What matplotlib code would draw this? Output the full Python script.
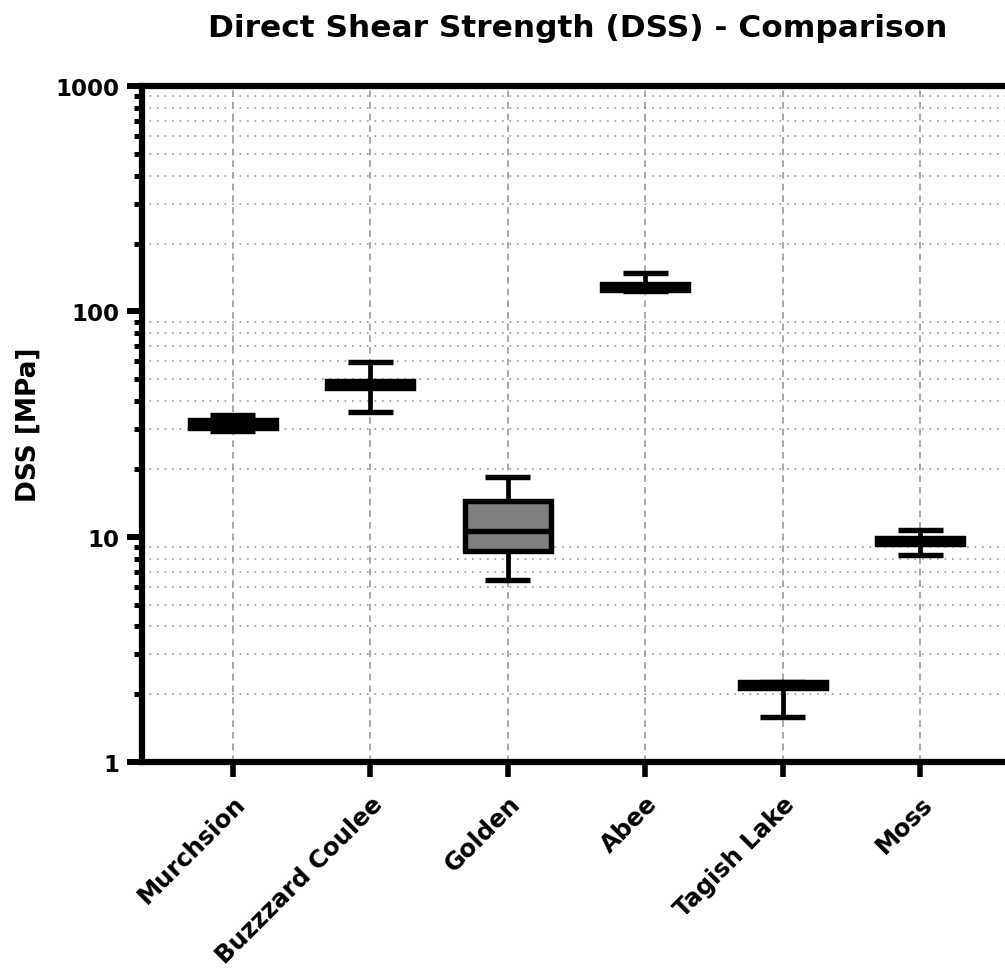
import matplotlib
matplotlib.use("Agg")
import matplotlib.pyplot as plt
from matplotlib.ticker import FixedLocator, FixedFormatter, LogLocator, NullFormatter

plt.rcParams['font.family'] = ['DejaVu Sans']
plt.rcParams['font.weight'] = 'bold'

# Five-number summaries per meteorite (MPa)
meteorites = ["Murchsion", "Buzzzard Coulee", "Golden", "Abee", "Tagish Lake", "Moss"]
dss_min = [29.4, 35.7, 6.4, 123.0, 1.59, 8.3]
dss_q1 = [30.4, 45.9, 8.6, 124.8, 2.13, 9.28]
dss_median = [31.6, 47.2, 10.6, 128.0, 2.20, 9.55]
dss_q3 = [33.0, 48.9, 14.45, 132.3, 2.26, 9.84]
dss_max = [34.7, 59.4, 18.4, 147.8, 2.26, 10.7]

ytick_values = [1, 10, 100, 1000]
ytick_labels = ["1", "10", "100", "1000"]

fig = plt.figure(figsize=(10.05, 9.70), dpi=100)
ax = fig.add_axes([0.1413, 0.2134, 0.8647, 0.6969])

stats = []
for name, lo, q1, med, q3, hi in zip(meteorites, dss_min, dss_q1, dss_median, dss_q3, dss_max):
    stats.append(dict(label=name, whislo=lo, q1=q1, med=med, q3=q3, whishi=hi, fliers=[]))

positions = list(range(len(meteorites)))
ax.bxp(stats, positions=positions, widths=0.625, capwidths=0.33, patch_artist=True,
       showfliers=False,
       boxprops=dict(facecolor="#808080", edgecolor="black", linewidth=3.9),
       medianprops=dict(color="black", linewidth=3.9, solid_capstyle="butt"),
       whiskerprops=dict(color="black", linewidth=3.4, solid_capstyle="butt"),
       capprops=dict(color="black", linewidth=3.9, solid_capstyle="butt"),
       zorder=3)

ax.set_yscale("log")
ax.set_ylim(1, 1000)
ax.set_xlim(-0.66, 5.66)

ax.yaxis.set_major_locator(FixedLocator(ytick_values))
ax.yaxis.set_major_formatter(FixedFormatter(ytick_labels))
ax.yaxis.set_minor_locator(LogLocator(base=10, subs=range(2, 10)))
ax.yaxis.set_minor_formatter(NullFormatter())

ax.set_xticks(positions)
ax.set_xticklabels(meteorites, rotation=45, ha="right", va="top",
                   rotation_mode="anchor", fontsize=17.5, fontweight="bold")

ax.tick_params(axis="y", which="major", length=11, width=4.3, labelsize=16.5, pad=5)
ax.tick_params(axis="y", which="minor", length=5.5, width=3.6)
ax.tick_params(axis="x", which="major", length=11, width=4.0, pad=10)

for side in ("left", "bottom", "top"):
    ax.spines[side].set_linewidth(4.5)
ax.spines["right"].set_visible(False)

ax.grid(axis="x", which="major", color="#9a9a9a", linestyle=(0, (4, 3)), linewidth=1.2)
ax.grid(axis="y", which="minor", color="#9a9a9a", linestyle=(0, (1, 3.5)), linewidth=1.2)
ax.set_axisbelow(True)

ax.set_ylabel("DSS [MPa]", fontsize=19, fontweight="bold", labelpad=10)
fig.suptitle("Direct Shear Strength (DSS) - Comparison", fontsize=22.5, fontweight="bold",
             x=0.575, y=0.986, va="top")

fig.savefig("out.png", dpi=100)
